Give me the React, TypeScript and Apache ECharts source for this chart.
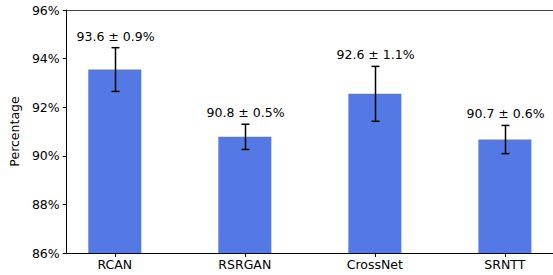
import React, { useEffect, useRef } from "react";
import * as echarts from "echarts";

const categories = ["RCAN", "RSRGAN", "CrossNet", "SRNTT"];
const means = [93.55, 90.78, 92.55, 90.67];
const errors = [0.9, 0.52, 1.13, 0.58];
const labelTexts = ["93.6 ± 0.9%", "90.8 ± 0.5%", "92.6 ± 1.1%", "90.7 ± 0.6%"];
const yTicks = [86, 88, 90, 92, 94, 96];

const FONT = "DejaVu Sans";

export default function App() {
  const ref = useRef<HTMLDivElement>(null);
  useEffect(() => {
    if (!ref.current) return;
    const chart = echarts.init(ref.current, null, { renderer: "svg" });
    const barData = means.map((m, i) => [i, m]);
    const errData = means.map((m, i) => [i, m, errors[i]]);
    chart.setOption({
      animation: false,
      grid: { left: 65, right: -1, top: 10, bottom: 22 },
      xAxis: [
        {
          type: "value",
          min: -0.37,
          max: 3.37,
          position: "bottom",
          splitLine: { show: false },
          axisLine: { show: true, onZero: false, lineStyle: { color: "#000", width: 1 } },
          axisTick: {
            show: true,
            customValues: [0, 1, 2, 3],
            length: 4,
            lineStyle: { color: "#000" },
          },
          axisLabel: {
            show: true,
            customValues: [0, 1, 2, 3],
            formatter: (v: number) => categories[Math.round(v)] ?? "",
            margin: 5,
            color: "#000",
            fontFamily: FONT,
            fontSize: 12.5,
          },
        },
        {
          type: "value",
          min: -0.37,
          max: 3.37,
          position: "top",
          splitLine: { show: false },
          axisLine: { show: true, onZero: false, lineStyle: { color: "#444", width: 1 } },
          axisTick: { show: false },
          axisLabel: { show: false },
        },
      ],
      yAxis: {
        type: "value",
        min: 86,
        max: 96,
        interval: 2,
        name: "Percentage",
        nameLocation: "middle",
        nameGap: 35,
        nameTextStyle: { fontFamily: FONT, fontSize: 12.5, color: "#000" },
        splitLine: { show: false },
        axisLine: { show: true, onZero: false, lineStyle: { color: "#000", width: 1 } },
        axisTick: { show: true, length: 4, lineStyle: { color: "#000" } },
        axisLabel: {
          formatter: (v: number) => (yTicks.includes(v) ? `${v}%` : ""),
          margin: 7,
          color: "#000",
          fontFamily: FONT,
          fontSize: 12.5,
        },
      },
      series: [
        {
          type: "bar",
          data: barData,
          barWidth: 53,
          z: 2,
          itemStyle: { color: "#5478E4" },
          silent: true,
        },
        {
          type: "custom",
          data: errData,
          silent: true,
          z: 5,
          encode: { x: 0, y: 1 },
          renderItem: (params: any, api: any) => {
            const i = params.dataIndex;
            const x = api.value(0);
            const m = means[i];
            const e = errors[i];
            const top = api.coord([x, m + e]);
            const bot = api.coord([x, m - e]);
            const cx = Math.round(top[0]) + 0.5;
            const capHalf = 4;
            const style = { stroke: "#000", lineWidth: 1.5, fill: null };
            return {
              type: "group",
              children: [
                { type: "line", shape: { x1: cx, y1: top[1], x2: cx, y2: bot[1] }, style },
                { type: "line", shape: { x1: cx - capHalf, y1: top[1], x2: cx + capHalf, y2: top[1] }, style },
                { type: "line", shape: { x1: cx - capHalf, y1: bot[1], x2: cx + capHalf, y2: bot[1] }, style },
                {
                  type: "text",
                  x: cx,
                  y: top[1] - 11.5,
                  style: {
                    text: labelTexts[i],
                    align: "center",
                    verticalAlign: "middle",
                    fill: "#000",
                    font: `12.5px "${FONT}"`,
                  },
                },
              ],
            };
          },
        },
      ],
    });
    return () => chart.dispose();
  }, []);
  return (
    <div
      ref={ref}
      style={{ position: "fixed", left: 0, top: 0, width: 553, height: 275, background: "#fff" }}
    />
  );
}
